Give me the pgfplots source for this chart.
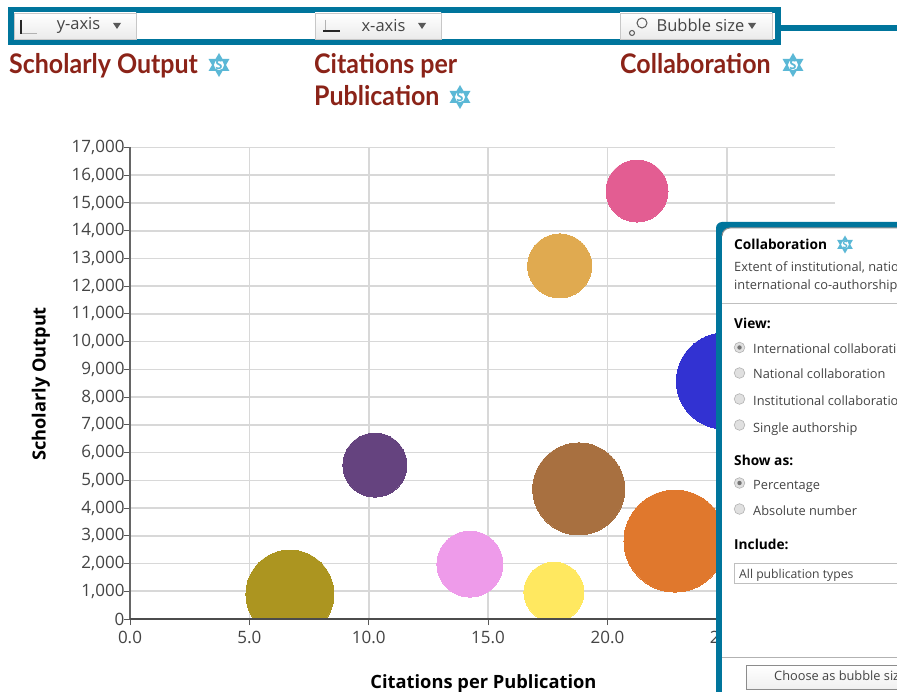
\documentclass[border=0pt]{standalone}
\usepackage{fontspec}
\usepackage{pgfplots}
\pgfplotsset{compat=1.18}
\setmainfont{Open Sans}
\newfontfamily\headfont{Lato}
\definecolor{teal1}{HTML}{00759C}
\definecolor{head}{HTML}{8B2318}
\definecolor{snow}{HTML}{5BB8D6}
\definecolor{gridc}{HTML}{D8D8D8}
\definecolor{ptext}{HTML}{444444}
\definecolor{b1}{RGB}{227,93,146}
\definecolor{b2}{RGB}{224,170,80}
\definecolor{b3}{RGB}{50,50,210}
\definecolor{b4}{RGB}{101,67,127}
\definecolor{b5}{RGB}{168,112,64}
\definecolor{b6}{RGB}{224,120,45}
\definecolor{b7}{RGB}{238,155,234}
\definecolor{b8}{RGB}{255,232,96}
\definecolor{b9}{RGB}{172,149,32}
\newcommand\fs[1]{\fontsize{#1}{#1}\selectfont}
\newcommand\snowicon[3]{%
  \begin{scope}[shift={(#1,#2)},x=#3pt,y=#3pt]
    \fill[snow] (0,1) -- (0.87,-0.5) -- (-0.87,-0.5) -- cycle;
    \fill[snow] (0,-1) -- (0.87,0.5) -- (-0.87,0.5) -- cycle;
    \fill[white] (0,0) circle (0.42);
    \node[inner sep=0pt,text=snow] at (0,0) {\bfseries\fs{\the\numexpr #3+1\relax}S};
  \end{scope}}
\newcommand\button[4]{%
  \shade[top color=white,bottom color=black!8,draw=black!22,line width=.7pt] (#1,#2) rectangle (#3,#4);}
\newcommand\tri[2]{\fill[black!65] (#1-4,#2-3) -- (#1+4,#2-3) -- (#1,#2+3) -- cycle;}
\newcommand\radio[2]{%
  \fill[black!12] (#1,#2) circle (5.3);
  \draw[black!30,line width=.6pt] (#1,#2) circle (5.3);}
\pgfplotsset{bubble/.style={only marks,mark=*,mark options={fill=#1,draw=#1,line width=0pt}}}
\begin{document}
\begin{tikzpicture}[x=1pt,y=1pt]
\path[use as bounding box] (0,0) rectangle (897,-692);
\begin{scope}
\clip (0,0) rectangle (897,-692);
\fill[white] (0,0) rectangle (897,-692);
\begin{axis}[
  at={(130pt,-619pt)},anchor=south west,
  scale only axis,width=705pt,height=471.5pt,
  xmin=0,xmax=29.535,ymin=0,ymax=17000,
  axis lines=left,
  axis line style={-,draw=none},
  clip marker paths=true,
  xtick={0,5,10,15,20,25},
  ytick={0,1000,...,17000},
  grid=major,
  major grid style={gridc,line width=1.6pt},
  tick style={black!65,line width=1pt},
  major tick length=6pt,
  tick align=outside,
  tick label style={text=ptext,font=\fs{17}},
  /pgf/number format/assume math mode=true,
  xticklabel style={/pgf/number format/.cd,fixed,fixed zerofill,precision=1,assume math mode=true},
  yticklabel style={/pgf/number format/.cd,fixed,precision=0,1000 sep={,},assume math mode=true},
  scaled x ticks=false,scaled y ticks=false,
  xticklabel shift=3pt,
  yticklabel shift=-4pt,
  after end axis/.code={
    \draw[black!60,line width=2pt] (axis cs:0,0) -- (axis cs:0,17000);
    \draw[black!70,line width=1.5pt] (axis cs:0,0) -- (axis cs:29.535,0);
  },
]
\addplot[bubble=b1,mark size=31] coordinates {(21.24,15430)};
\addplot[bubble=b2,mark size=32] coordinates {(18.0,12730)};
\addplot[bubble=b3,mark size=48] coordinates {(24.9,8580)};
\addplot[bubble=b4,mark size=32] coordinates {(10.26,5550)};
\addplot[bubble=b5,mark size=46] coordinates {(18.8,4690)};
\addplot[bubble=b6,mark size=51] coordinates {(22.83,2810)};
\addplot[bubble=b7,mark size=33] coordinates {(14.24,1980)};
\addplot[bubble=b8,mark size=30] coordinates {(17.76,970)};
\addplot[bubble=b9,mark size=44] coordinates {(6.7,900)};
\end{axis}
\begin{scope}[x=1pt,y=-1pt]
% axis titles
\node[font=\fs{18.3}\bfseries,text=black,anchor=center] at (483.5,684) {Citations per Publication};
\node[font=\fs{18.2}\bfseries,text=black,anchor=center,rotate=90] at (41,384) {Scholarly Output};
% toolbar
\draw[teal1,line width=5.5pt] (781,28) -- (897,28);
\fill[white] (11,10) rectangle (778,42);
\draw[teal1,line width=6pt] (11,10) rectangle (778,42);
\button{14}{13}{136}{39}
\button{315}{13}{441}{39}
\button{620}{13}{772}{39}
\draw[black!30,line width=1pt] (21,33.5) -- (37,33.5);
\draw[black!85,line width=1.5pt] (21,20) -- (21,34);
\draw[black!30,line width=1pt] (325,20) -- (325,31);
\draw[black!85,line width=1.5pt] (323,31) -- (340,31);
\draw[black!65,line width=1pt] (632,33) circle (2.5);
\draw[black!65,line width=1pt] (642,23) circle (5);
\node[font=\fs{16.5},text=ptext,anchor=center] at (78.5,25.5) {y-axis};
\node[font=\fs{16.5},text=ptext,anchor=center] at (383.5,25.5) {x-axis};
\node[font=\fs{16.5},text=ptext,anchor=center] at (700.5,25.5) {Bubble size};
\tri{117}{26}
\tri{422}{26}
\tri{752}{26}
% headings
\node[font=\headfont\bfseries\fs{27},text=head,anchor=base west,inner sep=0pt,xscale=.925] at (9,74) {Scholarly Output};
\node[font=\headfont\bfseries\fs{27},text=head,anchor=base west,inner sep=0pt,xscale=.925] at (314,74) {Citations per};
\node[font=\headfont\bfseries\fs{27},text=head,anchor=base west,inner sep=0pt,xscale=.925] at (314,106) {Publication};
\node[font=\headfont\bfseries\fs{27},text=head,anchor=base west,inner sep=0pt,xscale=.925] at (620,74) {Collaboration};
\snowicon{219}{65}{12}
\snowicon{460}{97}{12}
\snowicon{793}{65}{12}
% panel
\fill[teal1] (716,692) -- (716,228) arc[start angle=180,end angle=270,radius=6] -- (897,222) -- (897,692) -- cycle;
\fill[white] (722,692) -- (722,236) arc[start angle=180,end angle=270,radius=8] -- (897,228) -- (897,692) -- cycle;
\draw[black!45,line width=1pt] (722,236) arc[start angle=180,end angle=270,radius=8] -- (897,228);
\node[font=\fs{13.7}\bfseries,text=black,anchor=base west,inner sep=0pt] at (734,249.5) {Collaboration};
\snowicon{845}{244.5}{9}
\node[font=\fs{12.8},text=ptext,anchor=base west,inner sep=0pt] at (734,271.5) {Extent of institutional, national and};
\node[font=\fs{12.8},text=ptext,anchor=base west,inner sep=0pt] at (734,289.5) {international co-authorship};
\draw[black!25,line width=1pt] (722,304) -- (897,304);
\node[font=\fs{13.7}\bfseries,text=black,anchor=base west,inner sep=0pt] at (734,328.5) {View:};
\node[font=\fs{12.8},text=ptext,anchor=base west,inner sep=0pt] at (753,353.5) {International collaboration};
\node[font=\fs{12.8},text=ptext,anchor=base west,inner sep=0pt] at (753,379) {National collaboration};
\node[font=\fs{12.8},text=ptext,anchor=base west,inner sep=0pt] at (753,405.5) {Institutional collaboration};
\node[font=\fs{12.8},text=ptext,anchor=base west,inner sep=0pt] at (753,432) {Single authorship};
\radio{739.5}{347.5}
\fill[black!55] (739.5,347.5) circle (2.2);
\radio{739.5}{373}
\radio{739.5}{399}
\radio{739.5}{425}
\node[font=\fs{13.7}\bfseries,text=black,anchor=base west,inner sep=0pt] at (734,465.5) {Show as:};
\node[font=\fs{12.8},text=ptext,anchor=base west,inner sep=0pt] at (753,489.5) {Percentage};
\node[font=\fs{12.8},text=ptext,anchor=base west,inner sep=0pt] at (753,515.5) {Absolute number};
\radio{739.5}{483}
\fill[black!55] (739.5,483) circle (2.2);
\radio{739.5}{509}
\node[font=\fs{13.7}\bfseries,text=black,anchor=base west,inner sep=0pt] at (734,549.5) {Include:};
\draw[black!25,line width=1pt] (734.5,563.5) rectangle (910,583.5);
\node[font=\fs{12.2},text=ptext,anchor=base west,inner sep=0pt] at (739,578.5) {All publication types};
\draw[black!30,line width=1pt] (722,657.5) -- (897,657.5);
\shade[top color=white,bottom color=black!6,draw=black!45,line width=.8pt] (746,665) rectangle (930,689);
\node[font=\fs{12.8},text=ptext,anchor=base west,inner sep=0pt] at (774,680) {Choose as bubble size};
\end{scope}
\end{scope}
\end{tikzpicture}
\end{document}
